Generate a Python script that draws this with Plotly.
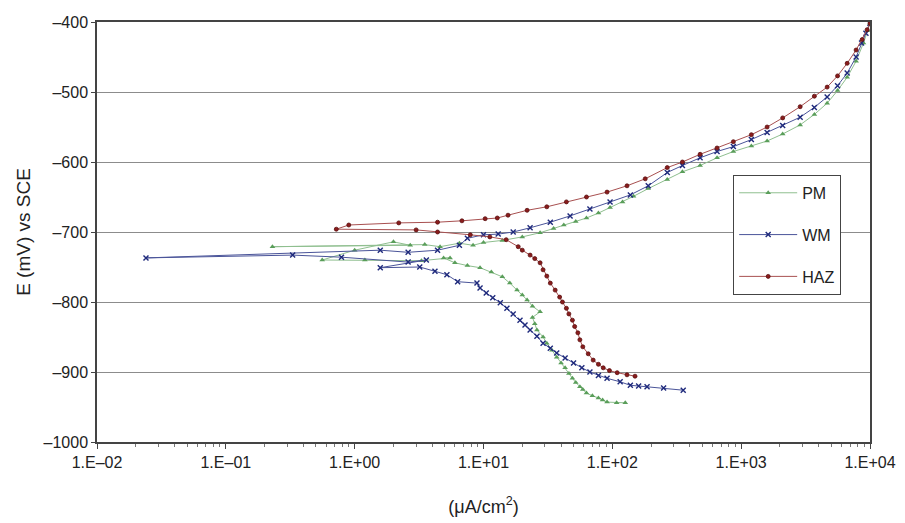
import numpy as np
import plotly.graph_objects as go

# Potentiodynamic polarization data: current density (uA/cm2) vs potential (mV vs SCE)
pm_i = [126, 108, 91, 84, 78, 70, 63, 59, 56, 52, 49, 46, 43, 40, 37, 34, 31, 29, 26, 25,
        24, 27.5, 24, 21.8, 20, 18.2, 16, 14, 11.5, 9.4, 7.5, 6.0, 4.9, 5.5, 3.3, 1.2, 0.56,
        1.0, 2.0, 2.7, 0.23, 3.5, 4.6, 6.5, 8.3, 10, 14, 20, 27.5, 35, 42, 52, 63, 78, 96,
        120, 146, 190, 267, 350, 480, 650, 870, 1200, 1590, 2100, 2870, 3700, 4650, 5600,
        6650, 7800, 8900, 9600, 10000]
pm_e = [-944, -944, -943, -940, -937, -934, -930, -925, -921, -915, -909, -902, -894, -887,
        -879, -869, -859, -850, -840, -831, -822, -814, -806, -797, -790, -783, -773, -764,
        -757, -751, -748, -744, -737, -737, -741, -740, -740, -726, -714, -719, -721, -718,
        -721, -716, -719, -715, -712, -707, -701, -695, -690, -685, -680, -673, -665, -657,
        -649, -638, -625, -614, -605, -594, -585, -577, -570, -560, -547, -532, -516, -498,
        -479, -456, -430, -412, -402]

wm_i = [355, 250, 186, 160, 138, 115, 91, 78, 67, 58, 50, 43, 37, 33, 29, 26, 23, 21, 19.2,
        17, 15.2, 13.5, 11.8, 10.5, 9.4, 8.9, 6.3, 5.2, 4.2, 3.2, 1.58, 3.6, 2.6, 0.79, 0.33,
        0.024, 1.58, 2.6, 4.4, 6.5, 7.5, 10, 13, 17, 23, 33, 47, 67, 96, 138, 190, 267, 350,
        480, 650, 870, 1200, 1590, 2100, 2870, 3700, 4650, 5600, 6650, 7800, 8600, 9300, 10000]
wm_e = [-926, -923, -921, -920, -919, -914, -909, -905, -900, -894, -887, -880, -873, -866,
        -859, -849, -840, -833, -826, -817, -809, -801, -794, -787, -780, -773, -771, -761,
        -756, -750, -751, -740, -743, -736, -733, -737, -726, -729, -726, -719, -709, -704,
        -703, -700, -694, -686, -677, -667, -657, -647, -634, -615, -605, -594, -585, -578,
        -568, -558, -548, -536, -522, -507, -491, -473, -450, -430, -416, -402]

haz_i = [150, 130, 109, 95, 85, 78, 71, 65, 59, 56, 54, 51, 49, 46, 44, 41, 39, 36, 33, 31,
         29, 27.5, 25, 23, 20, 18.6, 15, 11.2, 7.9, 4.4, 3.0, 0.72, 0.9, 2.2, 4.4, 6.8, 10.3,
         12.8, 15.5, 21.8, 31, 44, 63, 91, 130, 180, 267, 350, 480, 650, 870, 1200, 1590,
         2100, 2870, 3700, 4650, 5600, 6650, 7800, 8700, 9500, 10000]
haz_e = [-906, -904, -901, -898, -894, -889, -883, -874, -864, -854, -844, -835, -826, -817,
         -809, -800, -793, -783, -773, -763, -754, -744, -738, -733, -726, -721, -711, -707,
         -704, -700, -697, -696, -690, -687, -686, -684, -681, -680, -676, -669, -664, -657,
         -650, -643, -634, -624, -608, -600, -589, -580, -571, -561, -550, -537, -521, -506,
         -493, -477, -459, -440, -425, -411, -402]

x_tick_vals = [1e-2, 1e-1, 1e0, 1e1, 1e2, 1e3, 1e4]
x_tick_text = ["1.E\u201302", "1.E\u201301", "1.E+00", "1.E+01", "1.E+02", "1.E+03", "1.E+04"]
y_tick_vals = [-1000, -900, -800, -700, -600, -500, -400]
y_tick_text = ["\u20131000", "\u2013900", "\u2013800", "\u2013700", "\u2013600", "\u2013500", "\u2013400"]

FONT = "Liberation Sans, Arial, sans-serif"

series = [
    ("PM", pm_i, pm_e, "#5a9e5a", "#8fbf8f", "triangle-up"),
    ("WM", wm_i, wm_e, "#1f2a7c", "#4a5499", "x-thin"),
    ("HAZ", haz_i, haz_e, "#8a1c1c", "#a85050", "circle"),
]

fig = go.Figure()
for name, xi, ye, mcol, lcol, sym in series:
    marker = dict(symbol=sym, size=5, color=mcol)
    if sym == "x-thin":
        marker.update(size=5, line=dict(color=mcol, width=1.4))
    elif sym == "circle":
        marker.update(size=4, line=dict(color="#5a1010", width=0.8))
    fig.add_trace(go.Scatter(
        x=xi, y=ye, name=name, mode="lines+markers",
        line=dict(color=lcol, width=1),
        marker=marker, legendgroup=name,
    ))

minor_vals = [k * 10.0 ** d for d in range(-2, 4) for k in range(2, 10)]

fig.update_layout(
    width=905, height=523,
    margin=dict(l=97, r=35, t=22, b=81, autoexpand=False),
    paper_bgcolor="white", plot_bgcolor="white",
    font=dict(family=FONT, size=15, color="#222222"),
    showlegend=True,
    legend=dict(
        x=0.823, y=0.636, xanchor="left", yanchor="top",
        bordercolor="#444444", borderwidth=1, bgcolor="white",
        font=dict(size=16, color="#222222"),
        tracegroupgap=18, itemwidth=58,
    ),
    xaxis=dict(
        type="log", range=[-2, 4], automargin=False,
        tickmode="array", tickvals=x_tick_vals, ticktext=x_tick_text,
        ticks="outside", ticklen=5, tickcolor="#444444",
        minor=dict(tickmode="array", tickvals=minor_vals, ticks="outside",
                   ticklen=3, tickcolor="#777777", showgrid=False),
        showgrid=False, zeroline=False,
        showline=True, linecolor="#444444", linewidth=1.5, mirror=True,
        tickfont=dict(size=16),
        title=dict(text="(\u03bcA/cm<sup>2</sup>)", font=dict(size=18), standoff=30),
    ),
    yaxis=dict(
        range=[-1000, -400], automargin=False,
        tickmode="array", tickvals=y_tick_vals, ticktext=y_tick_text,
        ticks="outside", ticklen=4, tickcolor="#444444",
        showgrid=True, gridcolor="#8c8c8c", gridwidth=1.2, zeroline=False,
        showline=True, linecolor="#444444", linewidth=1.5, mirror=True,
        tickfont=dict(size=16),
        title=dict(text="E (mV) vs SCE", font=dict(size=19), standoff=8),
    ),
)

fig.write_html("out.html")
